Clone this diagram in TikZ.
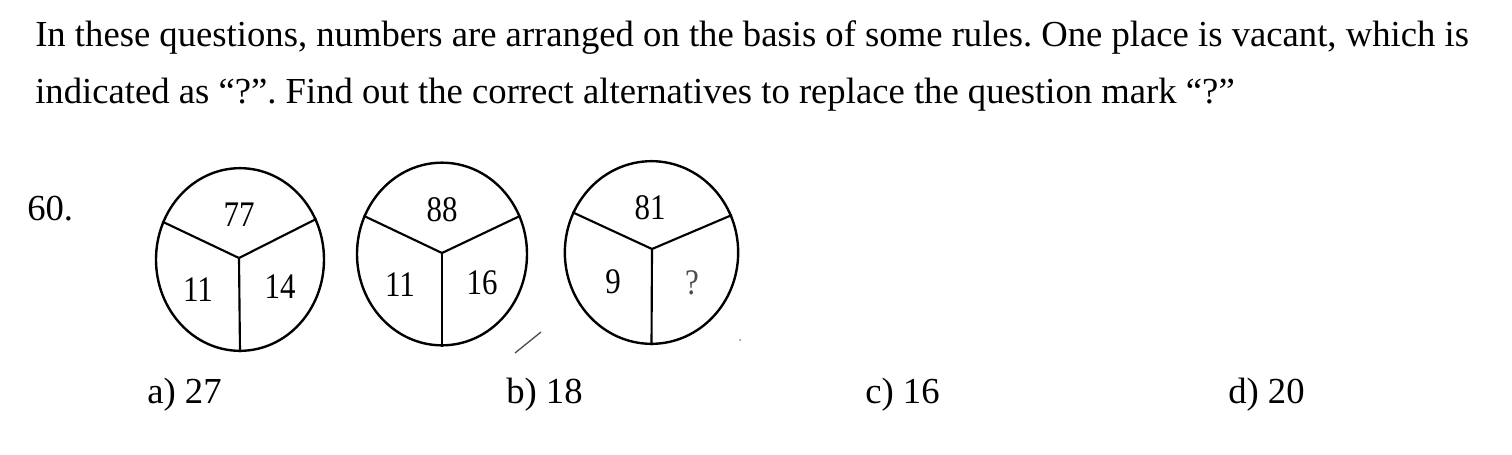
\documentclass[tikz,border=0pt]{standalone}
\usepackage{fontspec}
\setmainfont{Liberation Serif}
\usetikzlibrary{shapes.geometric}
\frenchspacing

\tikzset{
  wheel/.style={draw, ellipse, line width=1.8pt, inner sep=0pt, minimum height=137pt},
  spoke/.style={line width=1.6pt},
  num/.style={font=\fontsize{27}{30}\selectfont, xscale=0.86, transform shape},
  txt/.style={anchor=base west, inner sep=0pt, font=\fontsize{27.5}{32}\selectfont}
}

\begin{document}
\begin{tikzpicture}[x=0.75pt, y=-0.75pt]
  \useasboundingbox (0,0) rectangle (1512,454);

  % question text
  \node[txt] (q1) at (35,46) {In these questions, numbers are arranged on the basis of some rules. One place is vacant, which is};
  \node[txt] (q2) at (35,103) {indicated as “?”. Find out the correct alternatives to replace the question mark “?”};
  \node[txt] (qno) at (27,220) {60.};

  % the three wheels
  \node[wheel, minimum width=126pt] (c1) at (240,259.5) {};
  \node[wheel, minimum width=127.5pt] (c2) at (442,254) {};
  \node[wheel, minimum width=130pt] (c3) at (651.5,252.5) {};

  \coordinate (h1) at (239,258);
  \coordinate (h2) at (442,253);
  \coordinate (h3) at (652,249);

  \draw[spoke] (h1) -- (c1.154.6);
  \draw[spoke] (h1) -- (c1.28);
  \draw[spoke] (h1) -- (c1.south);
  \draw[spoke] (h2) -- (c2.154);
  \draw[spoke] (h2) -- (c2.26.6);
  \draw[spoke] (h2) -- (c2.south);
  \draw[spoke] (h3) -- (c3.153);
  \draw[spoke] (h3) -- (c3.25);
  \draw[spoke] (h3) -- (c3.south);

  \node[num] (a1) at (239,215) {77};
  \node[num] (b1) at (198,290) {11};
  \node[num] (d1) at (280,287) {14};
  \node[num] (a2) at (442,210) {88};
  \node[num] (b2) at (400,285) {11};
  \node[num] (d2) at (482,283) {16};
  \node[num] (a3) at (650,208) {81};
  \node[num] (b3) at (613,282) {9};
  \node[num, text=black!70] (d3) at (692,283) {?};

  % scan marks
  \coordinate (m1) at (515,353);
  \coordinate (m2) at (541,332);
  \draw[line width=1pt, black!70] (m1) -- (m2);
  \fill[black!50] (740,340) circle (1);

  % alternatives
  \node[txt] (ansa) at (147,403) {a) 27};
  \node[txt] (ansb) at (506,403) {b) 18};
  \node[txt] (ansc) at (865,403) {c) 16};
  \node[txt] (ansd) at (1228,403) {d) 20};
\end{tikzpicture}
\end{document}
